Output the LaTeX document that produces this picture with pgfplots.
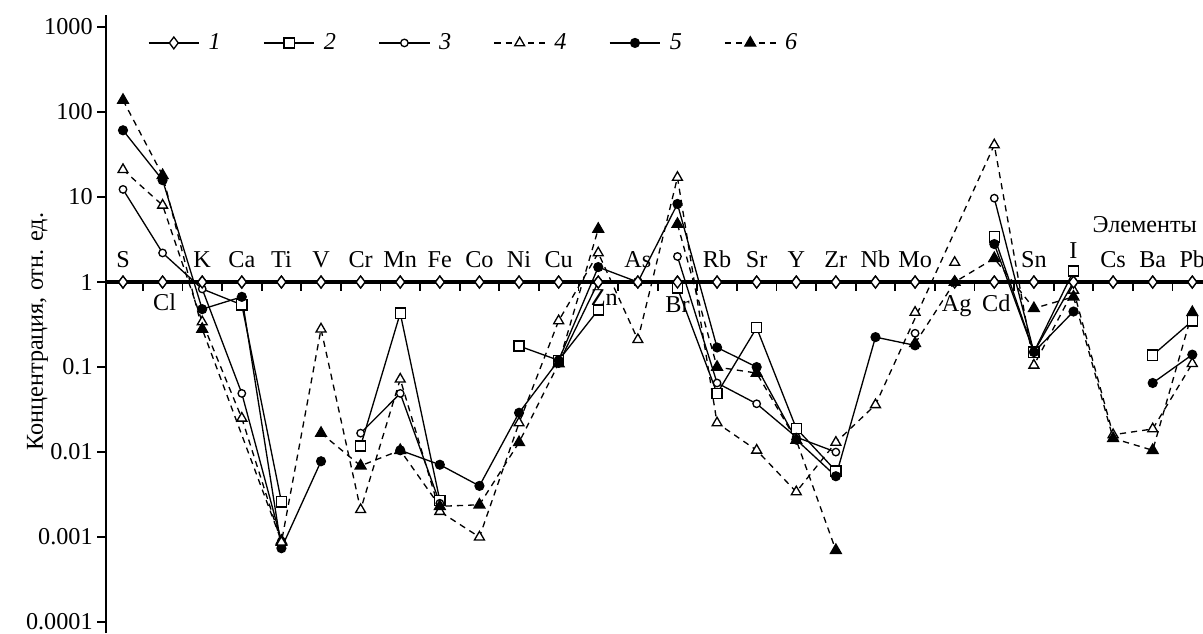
\documentclass[border=0pt]{standalone}
\usepackage{fontspec}
\setmainfont{Liberation Serif}
\usepackage{pgfplots}
\pgfplotsset{compat=1.18}

\pgfplotsset{
  sone/.style={line width=0.6pt, mark=diamond*, mark size=2.7pt, mark options={solid, fill=white, line width=0.6pt}},
  stwo/.style={line width=0.6pt, mark=square*, mark size=2.3pt, mark options={solid, fill=white, line width=0.6pt}},
  sthree/.style={line width=0.6pt, mark=*, mark size=1.7pt, mark options={solid, fill=white, line width=0.6pt}},
  sfour/.style={line width=0.6pt, dash pattern=on 2.8pt off 2.3pt, mark=triangle*, mark size=2.6pt, mark options={solid, fill=white, line width=0.6pt}},
  sfive/.style={line width=0.6pt, mark=*, mark size=2pt, mark options={solid, fill=black}},
  ssix/.style={line width=0.6pt, dash pattern=on 2.8pt off 2.3pt, mark=triangle*, mark size=2.8pt, mark options={solid, fill=black}},
}

\begin{document}
\fontsize{11}{13}\selectfont
\begin{tikzpicture}
\begin{axis}[
    scale only axis, width=498.6pt, height=280.9pt,
    xmin=-0.43, xmax=27.27,
    ymode=log, ymin=7.41e-5, ymax=1380,
    axis x line=middle, axis y line=left,
    axis line style={-},
    x axis line style={line width=1.5pt},
    y axis line style={line width=0.8pt},
    hide obscured x ticks=false, hide obscured y ticks=false,
    xtick={0.5,1.5,...,26.5}, xticklabels={},
    ytick={1e-4,1e-3,0.01,0.1,1,10,100,1000},
    yticklabels={0.0001,0.001,0.01,0.1,1,10,100,1000},
    yticklabel style={xshift=1.8pt},
    yminorticks=false, xminorticks=false,
    tick align=outside, major tick length=4pt,
    tick style={line width=0.8pt, black},
    ylabel={Концентрация, отн. ед.},
    ylabel style={at={(rel axis cs:-0.0625,0.488)}, anchor=center},
    unbounded coords=jump,
    clip=false,
    legend columns=6,
    legend style={at={(axis cs:0.45,650)}, anchor=west, draw=none, fill=none,
        /tikz/every even column/.append style={column sep=17.3pt}},
    legend image code/.code={\draw[mark repeat=2, mark phase=2] plot coordinates {(0pt,0pt) (11.5pt,0pt) (23pt,0pt)};},
]
% 1
\addplot[sone] coordinates {(0,1)(1,1)(2,1)(3,1)(4,1)(5,1)(6,1)(7,1)(8,1)(9,1)(10,1)(11,1)(12,1)(13,1)
  (14,1)(15,1)(16,1)(17,1)(18,1)(19,1)(20,1)(21,1)(22,1)(23,1)(24,1)(25,1)(26,1)(27,1)};
\addlegendentry{\hspace{2pt}\textit{1}}
% 2
\addplot[stwo] coordinates {(3,0.54)(4,0.0026)(5,nan)(6,0.0118)(7,0.43)(8,0.0027)(9,nan)(10,0.177)(11,0.12)(12,0.47)(13,nan)
  (14,0.85)(15,0.049)(16,0.29)(17,0.019)(18,0.006)(19,nan)(22,3.4)(23,0.15)(24,1.35)(25,nan)(26,0.138)(27,0.35)};
\addlegendentry{\hspace{2pt}\textit{2}}
% 3
\addplot[sthree] coordinates {(0,12.3)(1,2.2)(2,0.83)(3,0.049)(4,0.0009)(5,nan)(6,0.0167)(7,0.049)(8,0.0025)(9,nan)
  (11,0.11)(12,1.0)(13,nan)(14,2.0)(15,0.065)(16,0.037)(17,0.015)(18,0.01)(19,nan)(20,0.25)(21,nan)(22,9.7)(23,0.15)(24,1.0)};
\addlegendentry{\hspace{2pt}\textit{3}}
% 4
\addplot[sfour] coordinates {(0,21)(1,8)(2,0.34)(3,0.025)(4,0.00087)(5,0.28)(6,0.0021)(7,0.072)(8,0.002)(9,0.001)
  (10,0.022)(11,0.35)(12,2.2)(13,0.21)(14,17)(15,0.022)(16,0.0105)(17,0.0034)(18,0.013)(19,0.036)
  (22,41)(23,0.105)(24,0.8)(25,0.016)(26,0.0187)(27,0.11)};
\addlegendentry{\hspace{2pt}\textit{4}}
% 5
\addplot[sfive] coordinates {(0,61)(1,15.8)(2,0.48)(3,0.67)(4,0.00074)(5,0.0078)(6,nan)(7,0.0105)(8,0.0071)(9,0.004)
  (10,0.029)(11,0.12)(12,1.5)(13,1.0)(14,8.3)(15,0.17)(16,0.1)(17,0.014)(18,0.0052)(19,0.225)(20,0.18)(21,nan)
  (22,2.8)(23,0.15)(24,0.45)(25,nan)(26,0.065)(27,0.14)};
\addlegendentry{\hspace{2pt}\textit{5}}
% 6
\addplot[ssix] coordinates {(0,138)(1,18)(2,0.28)(4,0.0009)(4.5,nan)(5,0.0167)(6,0.0069)(7,0.0105)(8,0.0023)(9,0.0024)
  (10,0.013)(11,0.11)(12,4.2)(13,nan)(14,4.8)(15,0.1)(16,0.085)(17,0.0138)(18,0.0007)(19,nan)
  (20,0.19)(21,1.0)(22,1.9)(23,0.49)(24,0.67)(25,0.0145)(26,0.0105)(27,0.44)};
\addlegendentry{\hspace{2pt}\textit{6}}
% extra pieces
\addplot[line width=0.6pt, forget plot] coordinates {(2,0.83)(3,0.54)};
\addplot[sfour, only marks, forget plot] coordinates {(4,0.00087)(20,0.44)(21,1.7)};
\addplot[sone, only marks, forget plot] coordinates {(0,1)(1,1)(2,1)(3,1)(4,1)(5,1)(6,1)(7,1)(8,1)(9,1)(10,1)(11,1)(12,1)(13,1)
  (14,1)(15,1)(16,1)(17,1)(18,1)(19,1)(20,1)(22,1)(23,1)(24,1)(25,1)(26,1)(27,1)};

% element labels above the line
\node[anchor=base, yshift=6.8pt] at (axis cs:0,1) {S};
\node[anchor=base, yshift=6.8pt] at (axis cs:2,1) {K};
\node[anchor=base, yshift=6.8pt] at (axis cs:3,1) {Ca};
\node[anchor=base, yshift=6.8pt] at (axis cs:4,1) {Ti};
\node[anchor=base, yshift=6.8pt] at (axis cs:5,1) {V};
\node[anchor=base, yshift=6.8pt] at (axis cs:6,1) {Cr};
\node[anchor=base, yshift=6.8pt] at (axis cs:7,1) {Mn};
\node[anchor=base, yshift=6.8pt] at (axis cs:8,1) {Fe};
\node[anchor=base, yshift=6.8pt] at (axis cs:9,1) {Co};
\node[anchor=base, yshift=6.8pt] at (axis cs:10,1) {Ni};
\node[anchor=base, yshift=6.8pt] at (axis cs:11,1) {Cu};
\node[anchor=base, yshift=6.8pt] at (axis cs:13,1) {As};
\node[anchor=base, yshift=6.8pt] at (axis cs:15,1) {Rb};
\node[anchor=base, yshift=6.8pt] at (axis cs:16,1) {Sr};
\node[anchor=base, yshift=6.8pt] at (axis cs:17,1) {Y};
\node[anchor=base, yshift=6.8pt] at (axis cs:18,1) {Zr};
\node[anchor=base, yshift=6.8pt] at (axis cs:19,1) {Nb};
\node[anchor=base, yshift=6.8pt] at (axis cs:20,1) {Mo};
\node[anchor=base, yshift=6.8pt] at (axis cs:23,1) {Sn};
\node[anchor=base, yshift=10.9pt] at (axis cs:24,1) {I};
\node[anchor=base, yshift=6.8pt] at (axis cs:25,1) {Cs};
\node[anchor=base, yshift=6.8pt] at (axis cs:26,1) {Ba};
\node[anchor=base, yshift=6.8pt] at (axis cs:27,1) {Pb};
% element labels below the line
\node[anchor=base, yshift=-12.7pt] at (axis cs:1.05,1) {Cl};
\node[anchor=base, yshift=-10.5pt] at (axis cs:12.15,1) {Zn};
\node[anchor=base, yshift=-14pt] at (axis cs:14,1) {Br};
\node[anchor=base, yshift=-13.6pt] at (axis cs:21.05,1) {Ag};
\node[anchor=base, yshift=-13.6pt] at (axis cs:22.05,1) {Cd};
\node at (axis cs:25.8,4.8) {Элементы};

\coordinate (bbA) at (axis cs:-3.106,2080);
\coordinate (bbB) at (axis cs:27.27,7.43e-5);
\end{axis}
\pgfresetboundingbox
\useasboundingbox (bbA) rectangle (bbB);
\end{tikzpicture}
\end{document}
